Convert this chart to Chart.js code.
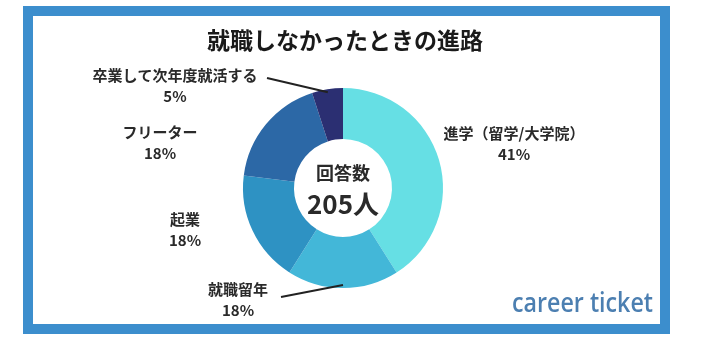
<!DOCTYPE html>
<html lang="ja">
<head>
<meta charset="UTF-8">
<title>就職しなかったときの進路</title>
<script src="https://cdn.jsdelivr.net/npm/chart.js@4.4.1/dist/chart.umd.min.js"></script>
<style>
  html, body { margin: 0; padding: 0; background: #fff; }
</style>
</head>
<body>
<canvas id="graphe" width="704" height="344"></canvas>
<script>
// Données
const categories = ['進学（留学/大学院）', '就職留年', '起業', 'フリーター', '卒業して次年度就活する'];
const pourcentages = [41, 18, 18, 18, 5];
const couleurs = ['#66dfe4', '#43b7d8', '#2e92c3', '#2c68a6', '#2b2f72'];
const titre = '就職しなかったときの進路';
const texteCentre = ['回答数', '205人'];

// Position des étiquettes par rapport au centre du donut (dx, dy, avec trait ?)
const placeEtiquettes = [
    { dx: 171, dy: -55 },
    { dx: -105, dy: 101, trait: [-62, 109] },
    { dx: -158, dy: 31 },
    { dx: -183, dy: -56 },
    { dx: -168, dy: -113, trait: [-76, -110] }
];

const POLICE = '"Noto Sans CJK JP", "Noto Sans", sans-serif';

// Cadre bleu autour de tout le visuel
const cadre = {
    id: 'cadre',
    beforeDraw(chart) {
        const ctx = chart.ctx;
        ctx.save();
        ctx.fillStyle = '#fff';
        ctx.fillRect(0, 0, chart.width, chart.height);
        ctx.strokeStyle = '#3c8ecd';
        ctx.lineWidth = 10;
        ctx.strokeRect(28, 11, 637, 318);
        ctx.restore();
    }
};

// Titre, étiquettes, traits, texte central et logo
const etiquettes = {
    id: 'etiquettes',
    afterDraw(chart) {
        const ctx = chart.ctx;
        const arcs = chart.getDatasetMeta(0).data;
        const cx = arcs[0].x, cy = arcs[0].y;
        ctx.save();
        ctx.textAlign = 'center';
        ctx.textBaseline = 'middle';

        // titre (dessiné à la main : le titre de Chart.js est compressé à la largeur du graphe)
        ctx.fillStyle = '#1a1a1a';
        ctx.font = 'bold 23px ' + POLICE;
        ctx.fillText(titre, 345, 40);

        ctx.fillStyle = '#2a2a2a';
        arcs.forEach((arc, i) => {
            const p = placeEtiquettes[i];
            ctx.font = 'bold 15px ' + POLICE;
            ctx.fillText(categories[i], cx + p.dx, cy + p.dy);
            ctx.fillText(pourcentages[i] + '%', cx + p.dx, cy + p.dy + 21);
            if (p.trait) {
                const milieu = (arc.startAngle + arc.endAngle) / 2;
                const r = arc.outerRadius - 3;
                ctx.beginPath();
                ctx.moveTo(cx + p.trait[0], cy + p.trait[1]);
                ctx.lineTo(cx + Math.cos(milieu) * r, cy + Math.sin(milieu) * r);
                ctx.strokeStyle = '#222';
                ctx.lineWidth = 2;
                ctx.stroke();
            }
        });

        // texte au centre
        ctx.font = 'bold 18px ' + POLICE;
        ctx.fillText(texteCentre[0], cx, cy - 15);
        ctx.font = 'bold 26px ' + POLICE;
        ctx.fillText(texteCentre[1], cx, cy + 16);

        // logo
        ctx.font = '600 27px "Open Sans", sans-serif';
        ctx.fillStyle = '#4c7fb1';
        ctx.textAlign = 'left';
        ctx.textBaseline = 'alphabetic';
        const logo = 'career ticket';
        const largeur = ctx.measureText(logo).width;
        ctx.translate(512, 312);
        ctx.scale(141 / largeur, 1);
        ctx.fillText(logo, 0, 0);
        ctx.restore();
    }
};

const ctx = document.getElementById('graphe').getContext('2d');
const chart = new Chart(ctx, {
    type: 'doughnut',
    data: {
        labels: categories,
        datasets: [{
            data: pourcentages,
            backgroundColor: couleurs,
            borderWidth: 0,
            hoverOffset: 0
        }]
    },
    options: {
        responsive: false,
        animation: false,
        cutout: '49%',
        layout: { padding: { left: 243, right: 261, top: 88, bottom: 56 } },
        plugins: {
            legend: { display: false },
            tooltip: { enabled: false },
            title: { display: false }
        }
    },
    plugins: [cadre, etiquettes]
});
</script>
</body>
</html>
